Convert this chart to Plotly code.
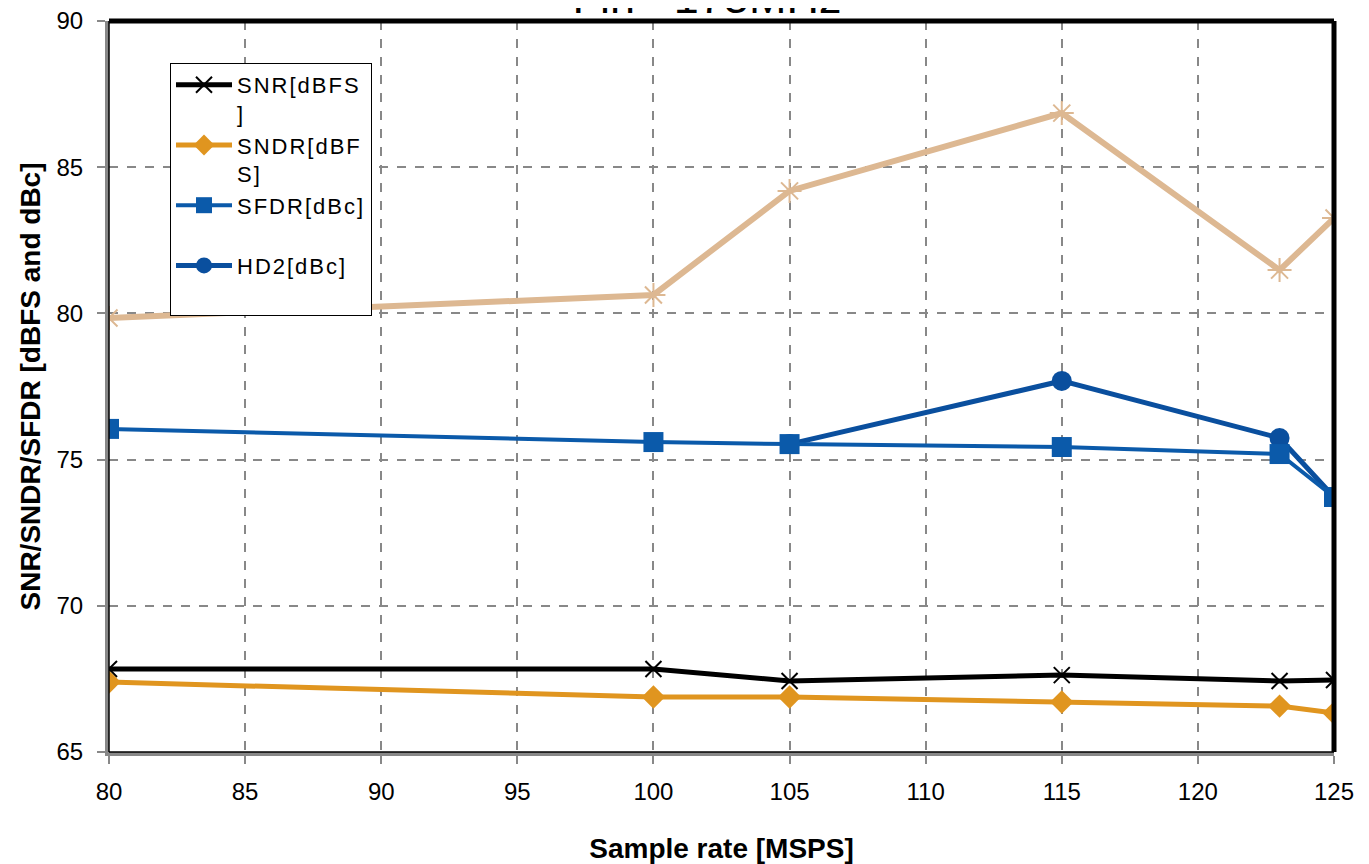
import plotly.graph_objects as go

x = [80, 100, 105, 115, 123, 125]
snr = [67.84, 67.84, 67.43, 67.63, 67.43, 67.46]
sndr = [67.39, 66.88, 66.88, 66.71, 66.57, 66.33]
sfdr = [76.05, 75.60, 75.53, 75.43, 75.19, 73.72]
hd2 = [None, None, 75.53, 77.69, 75.74, 73.72]
hd3 = [79.84, 80.63, 84.19, 86.85, 81.48, 83.26]

xticks = [80, 85, 90, 95, 100, 105, 110, 115, 120, 125]
yticks = [65, 70, 75, 80, 85, 90]

FONT = "Liberation Sans, Arial, sans-serif"


def lg(t):
    return "<span style='letter-spacing:2px'>" + t + "</span>"


fig = go.Figure()
fig.add_trace(go.Scatter(x=x, y=hd3, mode="lines+markers", showlegend=False,
                         line=dict(color="#DDB892", width=6),
                         marker=dict(symbol="asterisk-open", size=20,
                                     line=dict(color="#DDB892", width=2))))
fig.add_trace(go.Scatter(x=x, y=snr, name=lg("SNR[dBFS") + "<br>" + lg("]"), mode="lines+markers",
                         legendrank=1,
                         line=dict(color="#000000", width=5),
                         marker=dict(symbol="x-thin-open", size=16,
                                     line=dict(color="#000000", width=2))))
fig.add_trace(go.Scatter(x=x, y=sndr, name=lg("SNDR[dBF") + "<br>" + lg("S]"), mode="lines+markers",
                         legendrank=2,
                         line=dict(color="#E0951F", width=5),
                         marker=dict(symbol="diamond", size=18, color="#E0951F")))
fig.add_trace(go.Scatter(x=x, y=hd2, name=lg("HD2[dBc]") + "<br> ", mode="lines+markers",
                         legendrank=4,
                         line=dict(color="#0A4F9E", width=5),
                         marker=dict(symbol="circle", size=20, color="#0A4F9E")))
fig.add_trace(go.Scatter(x=x, y=sfdr, name=lg("SFDR[dBc]") + "<br> ", mode="lines+markers",
                         legendrank=3,
                         line=dict(color="#0B5AAA", width=4),
                         marker=dict(symbol="square", size=20, color="#0B5AAA")))

# page has an 8px body margin, so the figure is placed at (8, 8)
OFF = 8
W, H = 1369 - OFF, 864 - OFF
PL, PR, PT, PB = 109, 1334, 21, 752  # plot area in page pixels
L, R, T, B = PL - OFF, W - (PR - OFF), PT - OFF, H - (PB - OFF)

fig.update_layout(
    width=W, height=H,
    margin=dict(l=L, r=R, t=T, b=B, autoexpand=False),
    paper_bgcolor="white", plot_bgcolor="white",
    font=dict(family=FONT, color="black", size=24),
    title=dict(text="Fin= 175MHz", x=(707 - OFF) / W, xanchor="center", xref="container",
               y=1 - 5 / H, yanchor="bottom", yref="container",
               font=dict(size=45, family=FONT, color="black")),
    legend=dict(x=(170 - PL) / (PR - PL), y=(PB - 63) / (PB - PT),
                xanchor="left", yanchor="top", bordercolor="black", borderwidth=1,
                bgcolor="white", font=dict(size=22, family=FONT), valign="top",
                traceorder="normal", itemwidth=56),
    showlegend=True,
)
fig.update_xaxes(range=[80, 125], tickvals=xticks, showgrid=True, gridcolor="#888888",
                 griddash="dash", gridwidth=1.5, showline=True, linecolor="#888888", linewidth=4,
                 ticks="outside", ticklen=8, tickcolor="#888888", tickwidth=1.5,
                 ticklabelstandoff=7, automargin=False, ticklabeloverflow="allow",
                 tickfont=dict(size=24), zeroline=False,
                 title=dict(text="<b>Sample rate [MSPS]</b>", font=dict(size=28), standoff=42))
fig.update_yaxes(range=[65, 90], tickvals=yticks, showgrid=True, gridcolor="#888888",
                 griddash="dash", gridwidth=1.5, showline=True, linecolor="#888888", linewidth=4,
                 ticks="outside", ticklen=8, tickcolor="#888888", tickwidth=1.5,
                 ticklabelstandoff=9, automargin=False, ticklabeloverflow="allow",
                 tickfont=dict(size=24), zeroline=False,
                 title=dict(text="<b>SNR/SNDR/SFDR [dBFS and dBc]</b>", font=dict(size=28), standoff=9))

# thick black frame on top and right, thin black inner line on left and bottom
fig.add_shape(type="line", xref="paper", yref="paper", x0=0, x1=1, y0=1, y1=1,
              line=dict(color="black", width=5))
fig.add_shape(type="line", xref="paper", yref="paper", x0=1, x1=1, y0=0, y1=1,
              line=dict(color="black", width=5))
fig.add_shape(type="line", xref="paper", yref="paper", x0=0, x1=0, y0=0, y1=1,
              line=dict(color="black", width=1.5))
fig.add_shape(type="line", xref="paper", yref="paper", x0=0, x1=1, y0=0, y1=0,
              line=dict(color="black", width=1.5))

fig.write_html("out.html")
